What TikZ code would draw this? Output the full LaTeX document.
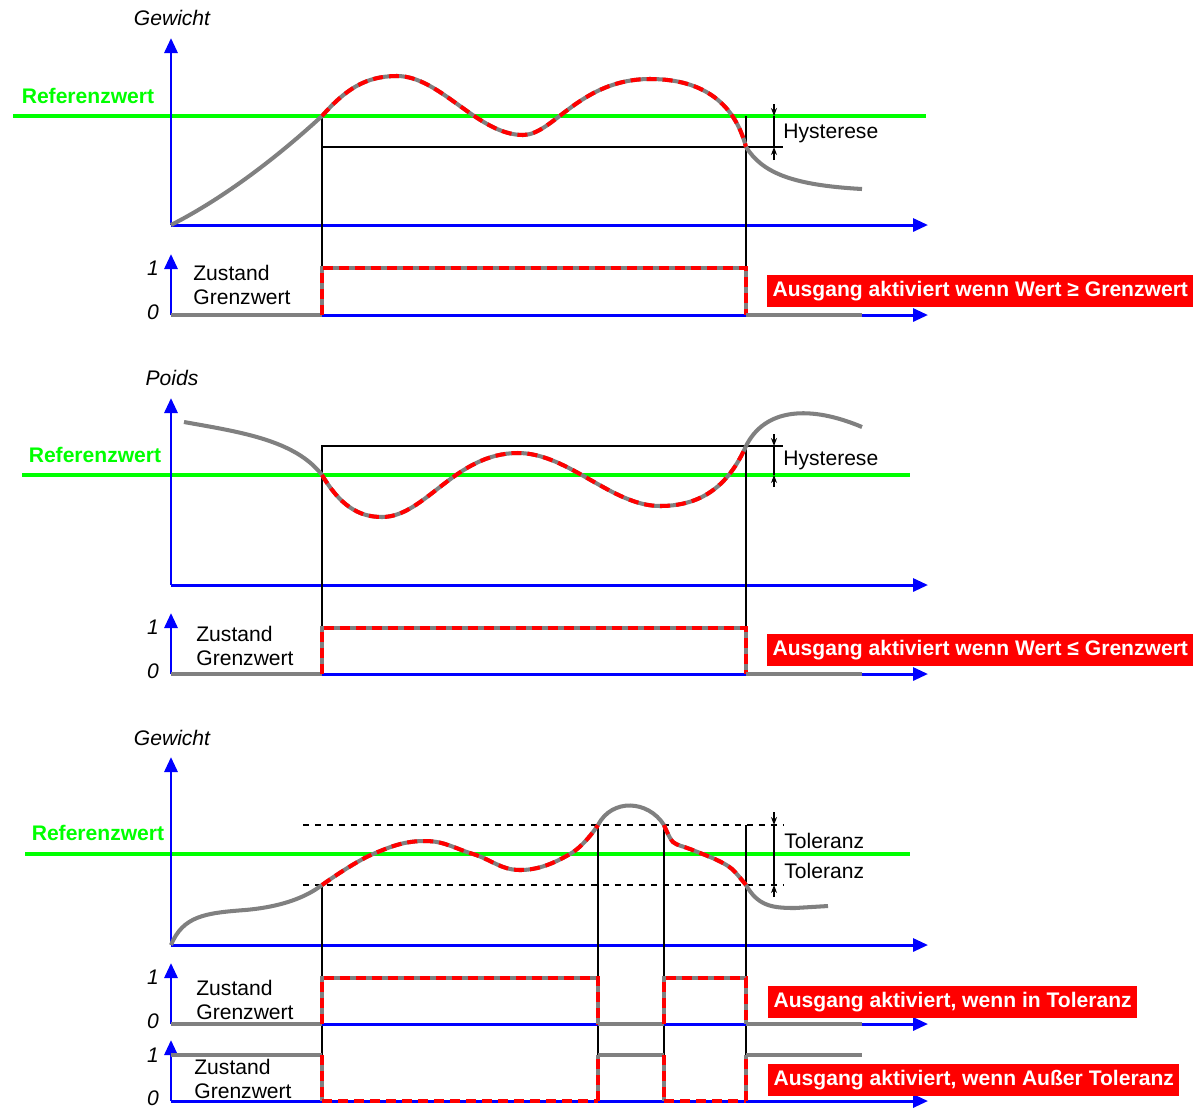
\documentclass[tikz,border=0pt]{standalone}
\usepackage{fontspec}
\setmainfont{Liberation Sans}
\usetikzlibrary{arrows.meta}

\definecolor{refgruen}{RGB}{0,255,0}
\definecolor{kurvgrau}{RGB}{128,128,128}
\definecolor{achsblau}{RGB}{0,0,255}

\tikzset{
  achse/.style={achsblau, line width=1.7pt, -{Triangle[length=0.3cm, width=0.26cm]}},
  refline/.style={refgruen, line width=2.8pt},
  messwert/.style={kurvgrau, line width=2.3pt},
  aktiv/.style={messwert, postaction={draw=red, dash pattern=on 0.2cm off 0.12cm}},
  nurrot/.style={red, line width=2.3pt, dash pattern=on 0.2cm off 0.12cm},
  grenze/.style={black, line width=0.8pt},
  toleranz/.style={black, line width=1.1pt, dash pattern=on 0.12cm off 0.12cm},
  mass/.style={black, line width=0.6pt},
  masspfeil/.style={mass, -{Stealth[length=0.16cm, width=0.12cm]}},
  achsname/.style={font=\itshape},
  pegel/.style={font=\itshape},
  reftext/.style={text=refgruen, font=\bfseries},
  zustand/.style={align=left, anchor=west},
  ausgang/.style={fill=red, text=white, font=\bfseries, inner xsep=3pt, inner ysep=3.3pt, anchor=west},
}

\begin{document}
\fontsize{12}{13.6}\selectfont
\begin{tikzpicture}[x=0.02cm, y=-0.02cm, every node/.append style={inner sep=0pt}]
    \useasboundingbox (0,0) rectangle (1199,1110);

    % ---- Gewicht, Wert >= Grenzwert ----
    \draw[refline] (13,116) -- (926,116);
    \node[reftext] (ref1) at (88,96) {Referenzwert};
    \node[achsname] (gew1) at (172,18) {Gewicht};
    \draw[achse] (171,225) -- (171,38);
    \draw[achse] (171,225) -- (928,225);
    \draw[grenze] (322,116) -- (322,315);
    \draw[grenze] (746,116) -- (746,315);
    \draw[grenze] (322,147) -- (783,147);
    \draw[masspfeil] (774,104) -- (774,116);
    \draw[mass] (774,116) -- (774,147);
    \draw[masspfeil] (774,160) -- (774,147);
    \node[anchor=west] (hyst1) at (783,133) {Hysterese};
    \draw[messwert] (171,225) .. controls (230,195) and (285,150) .. (322,116);
    \draw[aktiv] (322,116) .. controls (345,90) and (365,76) .. (397,76)
        .. controls (440,76) and (478,135) .. (523,135)
        .. controls (553,135) and (580,79) .. (650,79)
        .. controls (705,79) and (735,105) .. (746,147);
    \draw[messwert] (746,147) .. controls (762,172) and (790,185) .. (862,189);
    % Zustand
    \draw[achse] (171,315) -- (171,254);
    \draw[achse] (171,315) -- (928,315);
    \node[pegel] (eins1) at (153,268) {1};
    \node[pegel] (null1) at (153,312) {0};
    \node[zustand] (zust1) at (193,285) {Zustand\\Grenzwert};
    \draw[messwert] (171,315) -- (322,315);
    \draw[aktiv] (322,315) -- (322,268) -- (746,268) -- (746,315);
    \draw[messwert] (746,315) -- (862,315);
    \node[ausgang] (aus1) at (767,291) {Ausgang aktiviert wenn Wert ≥ Grenzwert};

    % ---- Poids, Wert <= Grenzwert ----
    \draw[refline] (22,475) -- (910,475);
    \node[reftext] (ref2) at (95,455) {Referenzwert};
    \node[achsname] (poids) at (172,378) {Poids};
    \draw[achse] (171,585) -- (171,398);
    \draw[achse] (171,585) -- (928,585);
    \draw[grenze] (322,674) -- (322,446) -- (783,446);
    \draw[grenze] (746,446) -- (746,674);
    \draw[masspfeil] (774,434) -- (774,446);
    \draw[mass] (774,446) -- (774,475);
    \draw[masspfeil] (774,487) -- (774,475);
    \node[anchor=west] (hyst2) at (783,460) {Hysterese};
    \draw[messwert] (184,422) .. controls (240,432) and (295,440) .. (322,475);
    \draw[aktiv] (322,475) .. controls (340,505) and (358,517) .. (382,517)
        .. controls (425,517) and (455,453) .. (518,453)
        .. controls (568,453) and (612,506) .. (660,506)
        .. controls (705,506) and (730,482) .. (746,446);
    \draw[messwert] (746,446) .. controls (765,408) and (810,405) .. (862,427);
    % Zustand
    \draw[achse] (171,674) -- (171,613);
    \draw[achse] (171,674) -- (928,674);
    \node[pegel] (eins2) at (153,627) {1};
    \node[pegel] (null2) at (153,671) {0};
    \node[zustand] (zust2) at (196,646) {Zustand\\Grenzwert};
    \draw[messwert] (171,674) -- (322,674);
    \draw[aktiv] (322,674) -- (322,628) -- (746,628) -- (746,674);
    \draw[messwert] (746,674) -- (862,674);
    \node[ausgang] (aus2) at (767,650) {Ausgang aktiviert wenn Wert ≤ Grenzwert};

    % ---- Gewicht, Toleranz ----
    \draw[refline] (25,854) -- (910,854);
    \node[reftext] (ref3) at (98,833) {Referenzwert};
    \node[achsname] (gew3) at (172,738) {Gewicht};
    \draw[achse] (171,945) -- (171,757);
    \draw[achse] (171,945) -- (928,945);
    \draw[toleranz] (303,825) -- (783,825);
    \draw[toleranz] (303,885) -- (783,885);
    \draw[grenze] (322,885) -- (322,1101);
    \draw[grenze] (598,825) -- (598,1101);
    \draw[grenze] (664,825) -- (664,1101);
    \draw[grenze] (746,825) -- (746,1101);
    \draw[masspfeil] (774,812) -- (774,825);
    \draw[mass] (774,825) -- (774,885);
    \draw[masspfeil] (774,897) -- (774,885);
    \node[anchor=west] (tol1) at (784,841) {Toleranz};
    \node[anchor=west] (tol2) at (784,871) {Toleranz};
    \draw[messwert] (171,945) .. controls (183,916) and (205,913) .. (245,910) .. controls (280,907) and (305,898) .. (322,885);
    \draw[aktiv] plot[smooth, tension=0.7] coordinates {(322,885) (373,854) (425,841) (473,854) (520,870) (570,854) (598,825)};
    \draw[messwert] (598,825) .. controls (612,798) and (648,800) .. (664,825);
    \draw[aktiv] plot[smooth, tension=0.5] coordinates {(664,825) (673,842) (690,849) (717,860) (732,869) (746,885)};
    \draw[messwert] (746,885) .. controls (758,906) and (772,908) .. (795,908) -- (828,906);
    % Zustand in Toleranz
    \draw[achse] (171,1024) -- (171,963);
    \draw[achse] (171,1024) -- (928,1024);
    \node[pegel] (eins3) at (153,977) {1};
    \node[pegel] (null3) at (153,1021) {0};
    \node[zustand] (zust3) at (196,1000) {Zustand\\Grenzwert};
    \draw[messwert] (171,1024) -- (322,1024);
    \draw[aktiv] (322,1024) -- (322,978) -- (598,978) -- (598,1024);
    \draw[messwert] (598,1024) -- (664,1024);
    \draw[aktiv] (664,1024) -- (664,978) -- (746,978) -- (746,1024);
    \draw[messwert] (746,1024) -- (862,1024);
    \node[ausgang] (aus3) at (768,1002) {Ausgang aktiviert, wenn in Toleranz};
    % Zustand ausser Toleranz
    \draw[achse] (171,1101) -- (171,1040);
    \draw[achse] (171,1101) -- (928,1101);
    \node[pegel] (eins4) at (153,1055) {1};
    \node[pegel] (null4) at (153,1098) {0};
    \node[zustand] (zust4) at (194,1079) {Zustand\\Grenzwert};
    \draw[messwert] (171,1055) -- (322,1055);
    \draw[aktiv] (322,1055) -- (322,1101);
    \draw[nurrot] (322,1101) -- (598,1101);
    \draw[aktiv] (598,1101) -- (598,1055);
    \draw[messwert] (598,1055) -- (664,1055);
    \draw[aktiv] (664,1055) -- (664,1101);
    \draw[nurrot] (664,1101) -- (746,1101);
    \draw[aktiv] (746,1101) -- (746,1055);
    \draw[messwert] (746,1055) -- (862,1055);
    \node[ausgang] (aus4) at (768,1080) {Ausgang aktiviert, wenn Außer Toleranz};
\end{tikzpicture}
\end{document}
